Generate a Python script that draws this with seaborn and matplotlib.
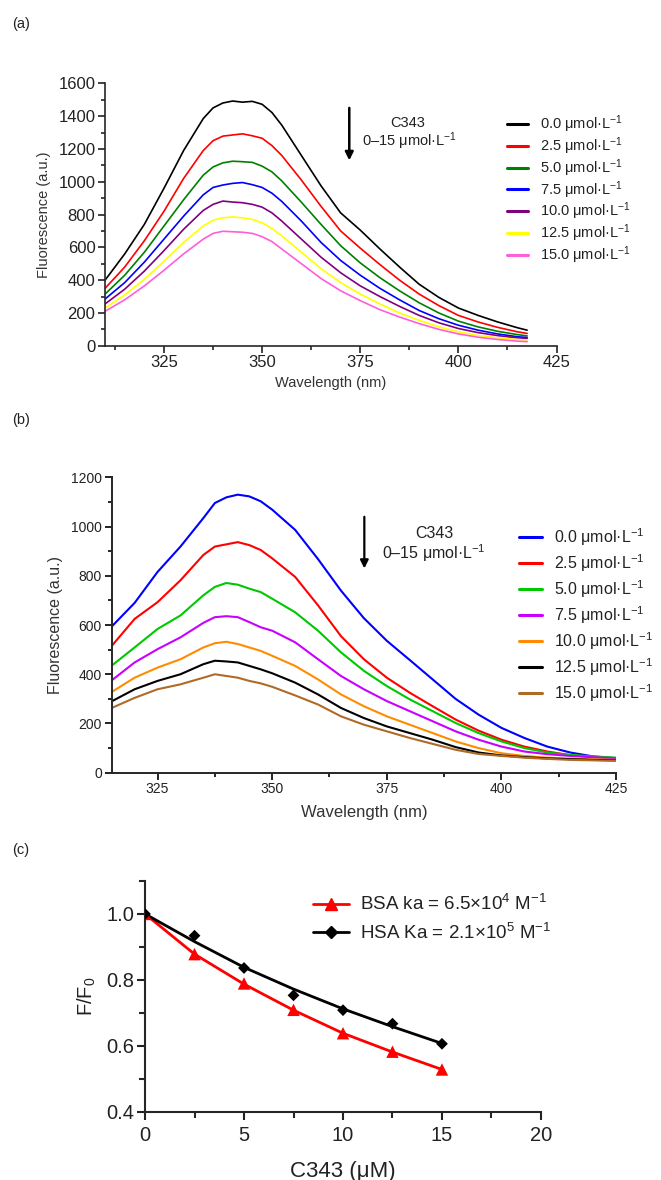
import pandas as pd
import matplotlib
matplotlib.use("Agg")
from matplotlib import pyplot as plt
from matplotlib.ticker import MultipleLocator
from matplotlib.lines import Line2D
import seaborn as sns

# ---- panel (a) data: fluorescence spectra, BSA + C343 ----
wl_a = [310, 315, 320, 325, 330, 335, 337.5, 340, 342.5, 345, 347.5, 350, 352.5,
        355, 360, 365, 370, 375, 380, 385, 390, 395, 400, 405, 410, 415, 417.5]
a_00 = [400, 560, 740, 960, 1190, 1385, 1450, 1480, 1492, 1485, 1490, 1472, 1422,
        1345, 1160, 975, 810, 705, 590, 480, 375, 295, 230, 185, 145, 110, 95]
a_25 = [350, 480, 640, 820, 1020, 1190, 1250, 1278, 1285, 1292, 1280, 1265, 1220,
        1160, 1010, 850, 700, 595, 495, 400, 315, 245, 185, 145, 112, 85, 75]
a_50 = [315, 430, 570, 730, 890, 1040, 1090, 1115, 1125, 1122, 1118, 1095, 1060,
        1005, 875, 740, 610, 505, 415, 335, 262, 200, 150, 115, 88, 68, 60]
a_75 = [285, 385, 510, 650, 790, 920, 965, 980, 990, 995, 982, 965, 930,
        880, 760, 630, 520, 430, 350, 280, 215, 165, 125, 95, 72, 55, 50]
a_100 = [255, 345, 455, 580, 710, 825, 862, 882, 876, 872, 862, 845, 810,
         760, 650, 540, 445, 365, 300, 240, 185, 140, 105, 80, 62, 48, 45]
a_125 = [230, 310, 405, 515, 630, 730, 765, 780, 785, 780, 770, 750, 715,
         670, 570, 470, 385, 315, 255, 200, 155, 115, 85, 62, 48, 38, 35]
a_150 = [210, 280, 365, 460, 560, 650, 685, 698, 695, 692, 685, 665, 635,
         590, 500, 410, 335, 275, 220, 175, 135, 100, 72, 52, 38, 28, 25]

# ---- panel (b) data: fluorescence spectra, HSA + C343 ----
wl_b = [315, 320, 325, 330, 335, 337.5, 340, 342.5, 345, 347.5, 350, 355, 360,
        365, 370, 375, 380, 385, 390, 395, 400, 405, 410, 415, 420, 425]
b_00 = [594, 690, 816, 919, 1035, 1096, 1119, 1130, 1123, 1103, 1069, 987, 868,
        740, 628, 536, 458, 379, 300, 236, 182, 141, 106, 82, 66, 59]
b_25 = [515, 625, 693, 782, 885, 919, 928, 937, 925, 905, 871, 796, 680,
        555, 461, 386, 325, 270, 216, 171, 134, 106, 86, 71, 63, 57]
b_50 = [435, 509, 584, 639, 721, 755, 771, 764, 748, 734, 707, 652, 577,
        489, 414, 352, 298, 250, 202, 161, 127, 100, 82, 72, 66, 61]
b_75 = [375, 448, 502, 550, 609, 632, 636, 632, 612, 591, 577, 530, 461,
        393, 339, 291, 250, 209, 168, 134, 106, 86, 75, 68, 63, 58]
b_100 = [328, 386, 427, 461, 509, 526, 532, 523, 509, 495, 475, 434, 379,
         318, 270, 229, 195, 161, 127, 100, 79, 68, 61, 57, 54, 52]
b_125 = [290, 339, 373, 400, 441, 455, 452, 448, 434, 420, 404, 366, 318,
         263, 222, 188, 161, 134, 104, 82, 70, 63, 58, 55, 52, 50]
b_150 = [263, 304, 339, 359, 386, 400, 393, 386, 373, 363, 349, 314, 277,
         229, 195, 168, 141, 117, 93, 76, 68, 61, 56, 52, 50, 48]

conc_labels = ["0.0", "2.5", "5.0", "7.5", "10.0", "12.5", "15.0"]
colors_a = ["#000000", "#ff0000", "#008000", "#0000ff", "#800080", "#ffff00", "#ff5ed9"]
colors_b = ["#0000ff", "#ff0000", "#00c800", "#c800ff", "#ff8c00", "#000000", "#b06a28"]

# ---- panel (c) data: F/F0 vs C343 ----
c343 = [0, 2.5, 5, 7.5, 10, 12.5, 15]
bsa_pts = [1.0, 0.878, 0.789, 0.709, 0.638, 0.582, 0.528]
hsa_pts = [1.0, 0.934, 0.836, 0.753, 0.708, 0.667, 0.606]
bsa_fit = [1.0, 0.878, 0.787, 0.708, 0.638, 0.581, 0.528]
hsa_fit = [1.0, 0.916, 0.838, 0.772, 0.712, 0.658, 0.607]

sns.set_style("ticks")
plt.rcParams["font.family"] = ["Liberation Sans", "DejaVu Sans"]
plt.rcParams["mathtext.fontset"] = "custom"
plt.rcParams["mathtext.rm"] = "Liberation Sans"
plt.rcParams["mathtext.it"] = "Liberation Sans:italic"
plt.rcParams["axes.linewidth"] = 1.3
txt = "#222222"


def unit(c):
    return c + " μmol·L$^{-1}$"


def long_df(wl, series):
    rows = []
    for lab, vals in zip(conc_labels, series):
        for w, v in zip(wl, vals):
            rows.append({"wl": w, "F": v, "conc": unit(lab)})
    return pd.DataFrame(rows)


def style_axis(ax, lw, fs, major_len=5, minor_len=3):
    sns.despine(ax=ax)
    for s in ["left", "bottom"]:
        ax.spines[s].set_linewidth(lw)
    ax.tick_params(which="major", direction="out", length=major_len, width=lw,
                   labelsize=fs, colors=txt, pad=2)
    ax.tick_params(which="minor", direction="out", length=minor_len, width=lw)


fig = plt.figure(figsize=(6.61, 11.8), dpi=100)

# ---------------- (a) ----------------
ax1 = fig.add_axes([0.159, 0.707, 0.683, 0.2224])
df_a = long_df(wl_a, [a_00, a_25, a_50, a_75, a_100, a_125, a_150])
sns.lineplot(data=df_a, x="wl", y="F", hue="conc", palette=colors_a,
             linewidth=1.2, ax=ax1, legend=True)
ax1.set_xlim(310, 425)
ax1.set_ylim(0, 1600)
ax1.xaxis.set_major_locator(MultipleLocator(25))
ax1.xaxis.set_minor_locator(MultipleLocator(12.5))
ax1.yaxis.set_major_locator(MultipleLocator(200))
ax1.yaxis.set_minor_locator(MultipleLocator(100))
style_axis(ax1, 1.2, 12)
ax1.set_xlabel("Wavelength (nm)", fontsize=10.5, color="#333333", labelpad=4)
ax1.set_ylabel("Fluorescence (a.u.)", fontsize=10.5, color="#333333", labelpad=5)
ax1.legend(loc="upper left", bbox_to_anchor=(0.891, 0.886), frameon=False,
           fontsize=10.5, handlelength=1.45, handletextpad=0.8, labelspacing=0.02,
           borderaxespad=0, borderpad=0)
for line in ax1.get_legend().get_lines():
    line.set_linewidth(2.2)
for t in ax1.get_legend().get_texts():
    t.set_color(txt)
ax1.annotate("", xy=(372.2, 1130), xytext=(372.2, 1450),
             arrowprops=dict(arrowstyle="-|>", color="black", lw=1.8,
                             mutation_scale=12, shrinkA=0, shrinkB=0))
ax1.text(387, 1355, "C343", ha="center", va="center", fontsize=10.5, color=txt)
ax1.text(387.5, 1245, unit("0–15"), ha="center", va="center", fontsize=10.5, color=txt)
fig.text(0.018, 0.980, "(a)", fontsize=10.5, color=txt, va="center")

# ---------------- (b) ----------------
ax2 = fig.add_axes([0.169, 0.3452, 0.763, 0.2502])
df_b = long_df(wl_b, [b_00, b_25, b_50, b_75, b_100, b_125, b_150])
sns.lineplot(data=df_b, x="wl", y="F", hue="conc", palette=colors_b,
             linewidth=1.5, ax=ax2, legend=True)
ax2.set_xlim(315, 425)
ax2.set_ylim(0, 1200)
ax2.xaxis.set_major_locator(MultipleLocator(25))
ax2.xaxis.set_minor_locator(MultipleLocator(12.5))
ax2.yaxis.set_major_locator(MultipleLocator(200))
ax2.yaxis.set_minor_locator(MultipleLocator(100))
style_axis(ax2, 1.4, 10)
ax2.set_xlabel("Wavelength (nm)", fontsize=12, color="#333333", labelpad=6)
ax2.set_ylabel("Fluorescence (a.u.)", fontsize=11.5, color="#333333", labelpad=6)
ax2.legend(loc="upper left", bbox_to_anchor=(0.807, 0.835), frameon=False,
           fontsize=11.5, handlelength=1.45, handletextpad=0.75, labelspacing=0.27,
           borderaxespad=0, borderpad=0)
for line in ax2.get_legend().get_lines():
    line.set_linewidth(2.2)
for t in ax2.get_legend().get_texts():
    t.set_color(txt)
ax2.annotate("", xy=(370.1, 830), xytext=(370.1, 1040),
             arrowprops=dict(arrowstyle="-|>", color="black", lw=1.6,
                             mutation_scale=12, shrinkA=0, shrinkB=0))
ax2.text(385.3, 973, "C343", ha="center", va="center", fontsize=11.5, color=txt)
ax2.text(385.3, 891, unit("0–15"), ha="center", va="center", fontsize=11.5, color=txt)
fig.text(0.018, 0.644, "(b)", fontsize=10.5, color=txt, va="center")

# ---------------- (c) ----------------
ax3 = fig.add_axes([0.2194, 0.0579, 0.599, 0.1955])
df_c = pd.DataFrame({"c": c343 * 2,
                     "fit": bsa_fit + hsa_fit,
                     "pts": bsa_pts + hsa_pts,
                     "prot": ["BSA"] * 7 + ["HSA"] * 7})
sns.lineplot(data=df_c, x="c", y="fit", hue="prot",
             palette={"BSA": "#ff0000", "HSA": "#000000"},
             linewidth=2.0, ax=ax3, legend=False)
sns.scatterplot(data=df_c[df_c.prot == "BSA"], x="c", y="pts", marker="^",
                color="#ff0000", s=80, edgecolor="none", ax=ax3, zorder=3)
sns.scatterplot(data=df_c[df_c.prot == "HSA"], x="c", y="pts", marker="D",
                color="#000000", s=36, edgecolor="none", ax=ax3, zorder=3)
ax3.set_xlim(0, 20)
ax3.set_ylim(0.4, 1.1)
ax3.xaxis.set_major_locator(MultipleLocator(5))
ax3.xaxis.set_minor_locator(MultipleLocator(2.5))
ax3.yaxis.set_major_locator(MultipleLocator(0.2))
ax3.yaxis.set_minor_locator(MultipleLocator(0.1))
ax3.set_yticks([0.4, 0.6, 0.8, 1.0])
ax3.set_yticklabels(["0.4", "0.6", "0.8", "1.0"])
style_axis(ax3, 1.5, 14.5, major_len=6, minor_len=4)
ax3.tick_params(axis="x", which="major", pad=4)
ax3.set_xlabel("C343 (μM)", fontsize=16, color=txt, labelpad=12)
ax3.set_ylabel("F/F$_0$", fontsize=14.5, color=txt, labelpad=6)
handles = [Line2D([], [], color="#ff0000", lw=2.0, marker="^", markersize=9),
           Line2D([], [], color="#000000", lw=2.0, marker="D", markersize=6)]
ax3.legend(handles, ["BSA ka = 6.5×10$^{4}$ M$^{-1}$",
                     "HSA Ka = 2.1×10$^{5}$ M$^{-1}$"],
           loc="upper left", bbox_to_anchor=(0.405, 0.975), frameon=False,
           fontsize=13.5, handlelength=1.9, handletextpad=0.6, labelspacing=0.45,
           borderaxespad=0)
for t in ax3.get_legend().get_texts():
    t.set_color(txt)
fig.text(0.018, 0.280, "(c)", fontsize=10.5, color=txt, va="center")

fig.savefig("out.png", dpi=100)
